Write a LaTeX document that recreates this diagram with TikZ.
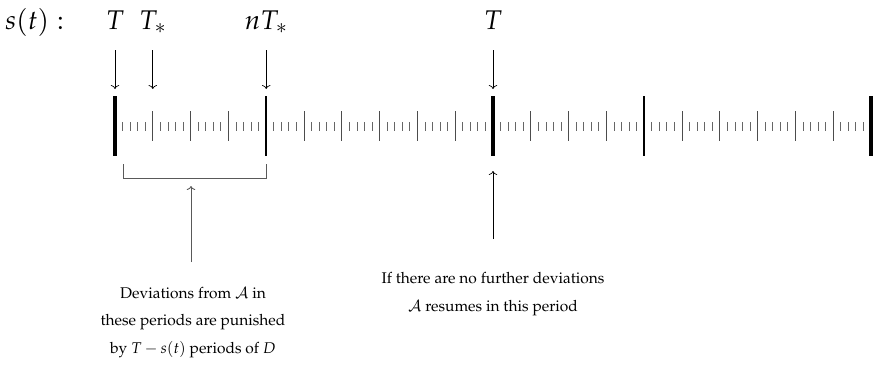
\documentclass[tikz,border=0pt]{standalone}
\usepackage[T1]{fontenc}
\usepackage{mathpazo}
\usetikzlibrary{arrows.meta}
\tikzset{
  lbl/.style={font=\fontsize{27}{30}\selectfont, inner sep=0pt, anchor=base},
  txt/.style={font=\fontsize{15.5}{20}\selectfont, inner sep=0pt, anchor=base},
  thickbar/.style={line width=4pt, black},
  midbar/.style={line width=2pt, black},
  majortick/.style={line width=0.9pt, black!70},
  minortick/.style={line width=0.8pt, black!60},
  ptr/.style={-{To[length=4pt,width=8.5pt]}, line width=0.7pt, black},
  grayptr/.style={-{To[length=4pt,width=8.5pt]}, line width=0.9pt, black!65},
  bracketline/.style={line width=0.9pt, black!65},
}
\begin{document}
\begin{tikzpicture}[x=1pt,y=-1pt]
\useasboundingbox (0,0) rectangle (874,367);
% minor ticks
\foreach \k in {0,...,19}{
  \foreach \j in {1,...,4}{
    \draw[minortick] ({115+37.8*\k+7.56*\j},122) -- ({115+37.8*\k+7.56*\j},131);
  }
}
% thin major ticks
\foreach \k in {1,2,3,5,6,7,8,9,11,12,13,15,16,17,18,19}{
  \draw[majortick] ({115+37.8*\k},111) -- ({115+37.8*\k},141);
}
% medium bars
\foreach \k in {4,14}{
  \draw[midbar] ({115+37.8*\k},96) -- ({115+37.8*\k},156);
}
% thick bars
\foreach \k in {0,10,20}{
  \draw[thickbar] ({115+37.8*\k},96) -- ({115+37.8*\k},156);
}
% labels
\node[lbl, anchor=base west] (st) at (5,29) {$s(t):$};
\node[lbl] (lT) at (115,29) {$T$};
\node[lbl] (lTs) at (152.8,29) {$T_*$};
\node[lbl] (lnTs) at (266.2,29) {$nT_*$};
\node[lbl] (lT2) at (493,29) {$T$};
% down arrows
\coordinate (d0a) at (115,50);   \coordinate (d0b) at (115,89);
\coordinate (d1a) at (152.8,50); \coordinate (d1b) at (152.8,89);
\coordinate (d4a) at (266.2,50); \coordinate (d4b) at (266.2,89);
\coordinate (d10a) at (493,50);  \coordinate (d10b) at (493,89);
\draw[ptr] (d0a) -- (d0b);
\draw[ptr] (d1a) -- (d1b);
\draw[ptr] (d4a) -- (d4b);
\draw[ptr] (d10a) -- (d10b);
% bracket
\coordinate (bl) at (123,164);
\coordinate (blc) at (123,178);
\coordinate (brc) at (266.2,178);
\coordinate (br) at (266.2,164);
\draw[bracketline] (bl) -- (blc) -- (brc) -- (br);
% up arrows
\coordinate (u1a) at (191,262); \coordinate (u1b) at (191,186);
\draw[grayptr] (u1a) -- (u1b);
\coordinate (u2a) at (493,239); \coordinate (u2b) at (493,171);
\draw[ptr] (u2a) -- (u2b);
% texts
\node[txt] (t1) at (193,298) {Deviations from $\mathcal{A}$ in};
\node[txt] (t2) at (193,325.5) {these periods are punished};
\node[txt] (t3) at (193,353) {by $T-s(t)$ periods of $D$};
\node[txt] (r1) at (493,283) {If there are no further deviations};
\node[txt] (r2) at (493,311) {$\mathcal{A}$ resumes in this period};
\end{tikzpicture}
\end{document}
